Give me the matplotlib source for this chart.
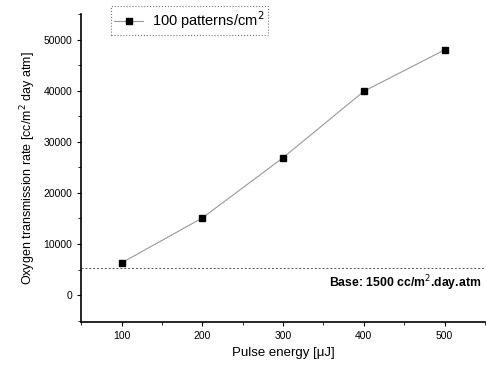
import matplotlib
matplotlib.use("Agg")
import matplotlib.pyplot as plt
from matplotlib.ticker import MultipleLocator

plt.rcParams['font.family'] = ['Liberation Sans', 'DejaVu Sans']

energy = [100, 200, 300, 400, 500]
otr = [6300, 15100, 26900, 39900, 48000]
base_level = 5300
legend_label = "100 patterns/cm$^2$"
base_text = "Base: 1500 cc/m$^2$.day.atm"

fig = plt.figure(figsize=(4.86, 3.72), dpi=100)
ax = fig.add_axes([0.167, 0.134, 0.831, 0.828])

ax.plot(energy, otr, color='#999999', lw=0.8, marker='s', markersize=4,
        markerfacecolor='black', markeredgecolor='black', label=legend_label)
ax.axhline(base_level, color='#555555', lw=0.7, ls=(0, (2, 2)))
ax.text(0.99, 2400, base_text, ha='right', va='center', fontsize=8.8,
        fontweight='bold', transform=ax.get_yaxis_transform())

ax.set_xlim(50, 550)
ax.set_ylim(-5300, 55000)
ax.xaxis.set_major_locator(MultipleLocator(100))
ax.xaxis.set_minor_locator(MultipleLocator(50))
ax.yaxis.set_major_locator(MultipleLocator(10000))
ax.yaxis.set_minor_locator(MultipleLocator(5000))
ax.tick_params(labelsize=7.5, direction='out', length=3, width=0.8)
ax.tick_params(which='minor', length=2, width=0.6)
for s in ['top', 'right']:
    ax.spines[s].set_visible(False)
for s in ['left', 'bottom']:
    ax.spines[s].set_linewidth(1.2)

ax.set_xlabel("Pulse energy [μJ]", fontsize=9.5)
ax.set_ylabel("Oxygen transmission rate [cc/m$^2$ day atm]", fontsize=9)

leg = ax.legend(loc='upper left', bbox_to_anchor=(0.055, 1.05), fontsize=10.5,
                fancybox=False, framealpha=1, handlelength=2.0, borderpad=0.25,
                handletextpad=0.6)
leg.get_frame().set_edgecolor('#777777')
leg.get_frame().set_linestyle(':')
leg.get_frame().set_linewidth(0.8)

fig.savefig("out.png", dpi=100)
